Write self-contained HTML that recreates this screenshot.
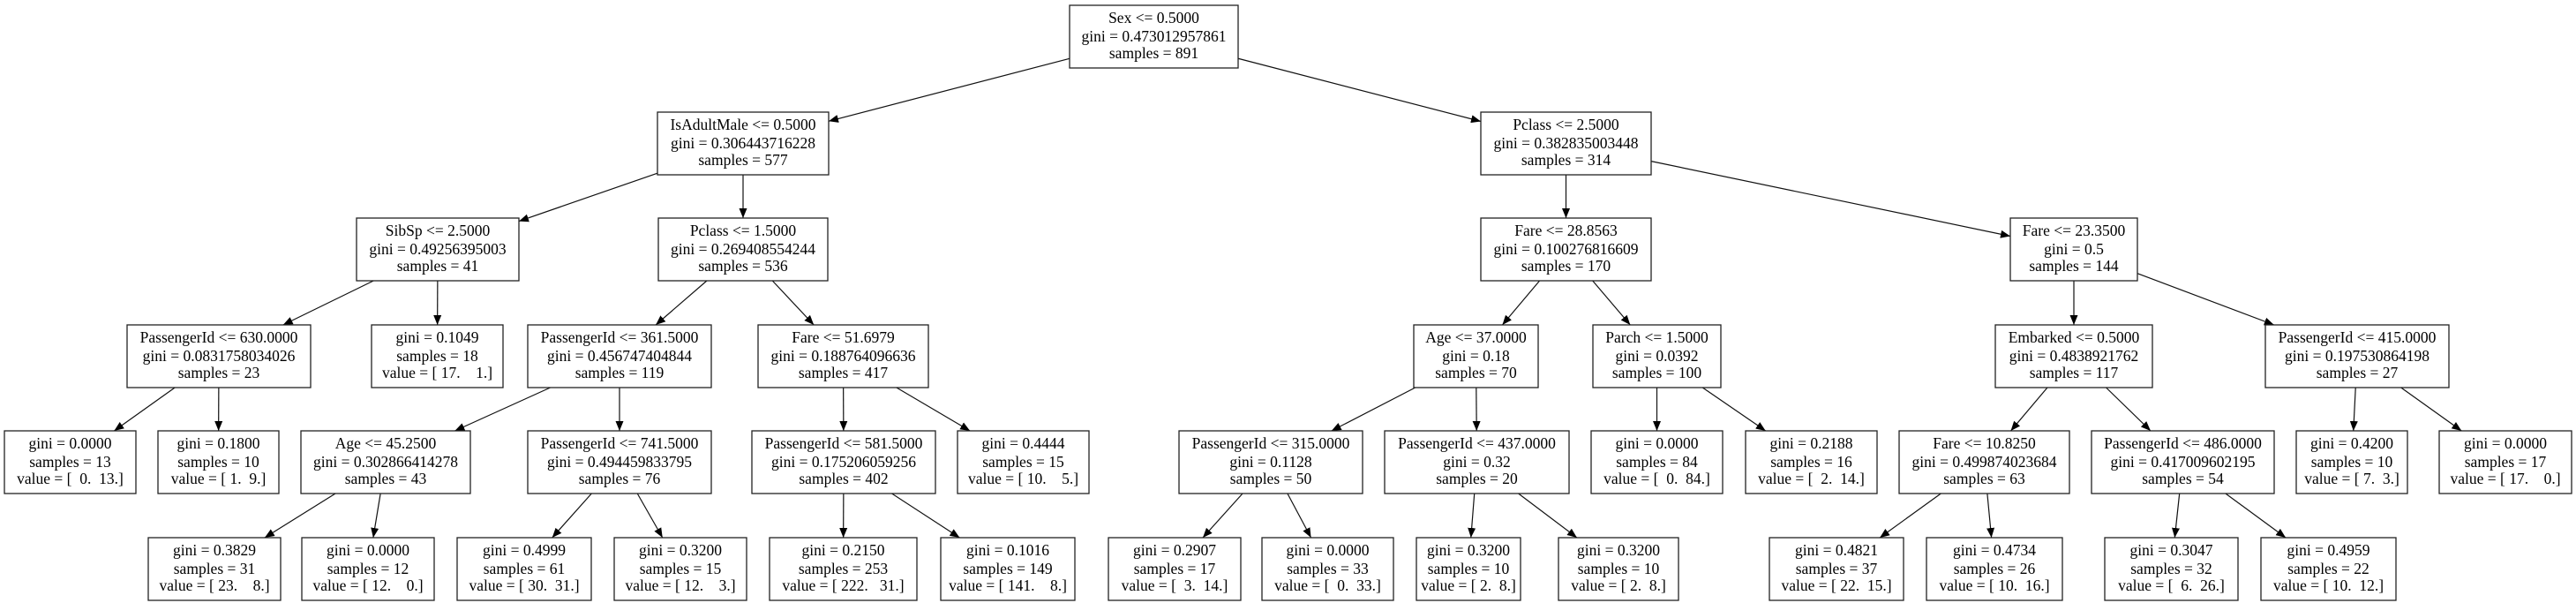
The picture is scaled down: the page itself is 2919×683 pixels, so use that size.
<!DOCTYPE html>
<html><head><meta charset="utf-8"><style>
html,body{margin:0;padding:0;background:#fff;}
svg{display:block;}
text{font-family:"Liberation Serif",serif;font-size:17.5px;fill:#000;}
</style></head><body>
<svg id="s" width="2919" height="683" xmlns="http://www.w3.org/2000/svg">
<defs><marker id="a" markerWidth="11" markerHeight="10" refX="11" refY="5" orient="auto" markerUnits="userSpaceOnUse"><path d="M0,0.5 L11,5 L0,9.5 z" fill="#000"/></marker></defs>
</svg>
<script>
var T=[6,127,247,368,488,609],H=71;
var N={
r:[1212,1403,0,["Sex <= 0.5000","gini = 0.473012957861","samples = 891"]],
a:[745,939,1,["IsAdultMale <= 0.5000","gini = 0.306443716228","samples = 577"]],
b:[1678,1871,1,["Pclass <= 2.5000","gini = 0.382835003448","samples = 314"]],
a1:[404,588,2,["SibSp <= 2.5000","gini = 0.49256395003","samples = 41"]],
a2:[746,938,2,["Pclass <= 1.5000","gini = 0.269408554244","samples = 536"]],
b1:[1678,1871,2,["Fare <= 28.8563","gini = 0.100276816609","samples = 170"]],
b2:[2278,2422,2,["Fare <= 23.3500","gini = 0.5","samples = 144"]],
c1:[144,352,3,["PassengerId <= 630.0000","gini = 0.0831758034026","samples = 23"]],
c2:[421,570,3,["gini = 0.1049","samples = 18","value = [ 17.    1.]"]],
c3:[598,806,3,["PassengerId <= 361.5000","gini = 0.456747404844","samples = 119"]],
c4:[859,1052,3,["Fare <= 51.6979","gini = 0.188764096636","samples = 417"]],
c5:[1602,1743,3,["Age <= 37.0000","gini = 0.18","samples = 70"]],
c6:[1805,1950,3,["Parch <= 1.5000","gini = 0.0392","samples = 100"]],
c7:[2261,2439,3,["Embarked <= 0.5000","gini = 0.4838921762","samples = 117"]],
c8:[2567,2775,3,["PassengerId <= 415.0000","gini = 0.197530864198","samples = 27"]],
d1:[5,154,4,["gini = 0.0000","samples = 13","value = [  0.  13.]"]],
d2:[179,316,4,["gini = 0.1800","samples = 10","value = [ 1.  9.]"]],
d3:[341,533,4,["Age <= 45.2500","gini = 0.302866414278","samples = 43"]],
d4:[598,806,4,["PassengerId <= 741.5000","gini = 0.494459833795","samples = 76"]],
d5:[852,1060,4,["PassengerId <= 581.5000","gini = 0.175206059256","samples = 402"]],
d6:[1085,1234,4,["gini = 0.4444","samples = 15","value = [ 10.    5.]"]],
d7:[1336,1544,4,["PassengerId <= 315.0000","gini = 0.1128","samples = 50"]],
d8:[1569,1778,4,["PassengerId <= 437.0000","gini = 0.32","samples = 20"]],
d9:[1803,1952,4,["gini = 0.0000","samples = 84","value = [  0.  84.]"]],
d10:[1978,2127,4,["gini = 0.2188","samples = 16","value = [  2.  14.]"]],
d11:[2152,2345,4,["Fare <= 10.8250","gini = 0.499874023684","samples = 63"]],
d12:[2370,2577,4,["PassengerId <= 486.0000","gini = 0.417009602195","samples = 54"]],
d13:[2602,2728,4,["gini = 0.4200","samples = 10","value = [ 7.  3.]"]],
d14:[2764,2914,4,["gini = 0.0000","samples = 17","value = [ 17.    0.]"]],
e1:[168,318,5,["gini = 0.3829","samples = 31","value = [ 23.    8.]"]],
e2:[342,492,5,["gini = 0.0000","samples = 12","value = [ 12.    0.]"]],
e3:[518,670,5,["gini = 0.4999","samples = 61","value = [ 30.  31.]"]],
e4:[696,846,5,["gini = 0.3200","samples = 15","value = [ 12.    3.]"]],
e5:[872,1039,5,["gini = 0.2150","samples = 253","value = [ 222.   31.]"]],
e6:[1066,1218,5,["gini = 0.1016","samples = 149","value = [ 141.    8.]"]],
e7:[1256,1406,5,["gini = 0.2907","samples = 17","value = [  3.  14.]"]],
e8:[1430,1579,5,["gini = 0.0000","samples = 33","value = [  0.  33.]"]],
e9:[1605,1723,5,["gini = 0.3200","samples = 10","value = [ 2.  8.]"]],
e10:[1766,1902,5,["gini = 0.3200","samples = 10","value = [ 2.  8.]"]],
e11:[2005,2157,5,["gini = 0.4821","samples = 37","value = [ 22.  15.]"]],
e12:[2183,2337,5,["gini = 0.4734","samples = 26","value = [ 10.  16.]"]],
e13:[2385,2536,5,["gini = 0.3047","samples = 32","value = [  6.  26.]"]],
e14:[2562,2715,5,["gini = 0.4959","samples = 22","value = [ 10.  12.]"]]
};
var E=[["r","a"],["r","b"],["a","a1"],["a","a2"],["b","b1"],["b","b2"],["a1","c1"],["a1","c2"],["a2","c3"],["a2","c4"],["b1","c5"],["b1","c6"],["b2","c7"],["b2","c8"],["c1","d1"],["c1","d2"],["c3","d3"],["c3","d4"],["c4","d5"],["c4","d6"],["c5","d7"],["c5","d8"],["c6","d9"],["c6","d10"],["c7","d11"],["c7","d12"],["c8","d13"],["c8","d14"],["d3","e1"],["d3","e2"],["d4","e3"],["d4","e4"],["d5","e5"],["d5","e6"],["d7","e7"],["d7","e8"],["d8","e9"],["d8","e10"],["d11","e11"],["d11","e12"],["d12","e13"],["d12","e14"]];
var s=document.getElementById("s"),h="";
function clip(n,x,y,dx,dy){var cx=(n[0]+n[1])/2,cy=T[n[2]]+H/2,hw=(n[1]-n[0])/2,hh=H/2;var t=Math.min(Math.abs(hw/dx||1e9),Math.abs(hh/dy||1e9));return [cx+dx*t,cy+dy*t];}
E.forEach(function(e){var p=N[e[0]],c=N[e[1]];var px=(p[0]+p[1])/2,py=T[p[2]]+H/2,cx=(c[0]+c[1])/2,cy=T[c[2]]+H/2;var dx=cx-px,dy=cy-py;var A=clip(p,px,py,dx,dy),B=clip(c,cx,cy,-dx,-dy);
h+='<line x1="'+A[0]+'" y1="'+A[1]+'" x2="'+B[0]+'" y2="'+B[1]+'" stroke="#111" stroke-width="1.2" marker-end="url(#a)"/>';});
for(var k in N){var n=N[k],t=T[n[2]],cx=(n[0]+n[1])/2;
h+='<rect x="'+n[0]+'" y="'+t+'" width="'+(n[1]-n[0])+'" height="'+H+'" fill="#fff" stroke="#222" stroke-width="1.3"/>';
[20,41,60].forEach(function(o,i){h+='<text x="'+cx+'" y="'+(t+o)+'" text-anchor="middle" xml:space="preserve">'+n[3][i].replace(/</g,"&lt;")+'</text>';});}
s.insertAdjacentHTML("beforeend",h);
</script>
</body></html>
